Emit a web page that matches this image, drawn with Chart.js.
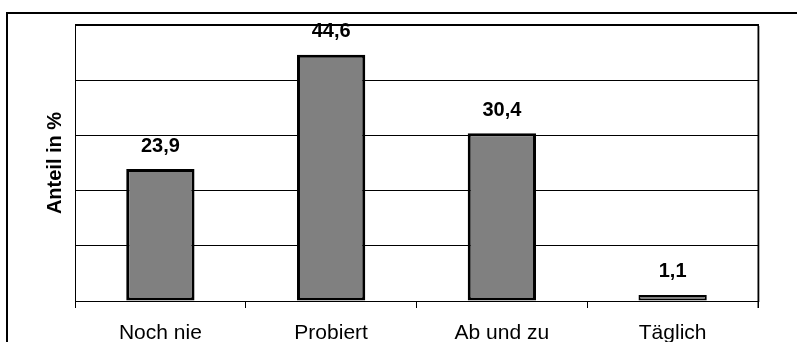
<!DOCTYPE html>
<html>
<head>
<meta charset="utf-8">
<script src="https://cdn.jsdelivr.net/npm/chart.js@4"></script>
<style>
  html, body { margin: 0; padding: 0; background: #fff; }
  #wrap { width: 797px; height: 342px; }
</style>
</head>
<body>
<div id="wrap"><canvas id="chart" width="797" height="342"></canvas></div>
<script>
const categories = ["Noch nie", "Probiert", "Ab und zu", "Täglich"];
const shares = [23.9, 44.6, 30.4, 1.1];
const yMin = 0;
const yMax = 50;
const yStep = 10;

// outer frame + plot border with shadow
const framePlugin = {
  id: "frame",
  beforeDraw(chart) {
    const ctx = chart.ctx;
    ctx.save();
    ctx.fillStyle = "#fff";
    ctx.fillRect(0, 0, chart.width, chart.height);
    ctx.fillStyle = "#000";
    ctx.fillRect(6, 12, 2, chart.height - 12);
    ctx.fillRect(6, 12, chart.width - 6, 2);
    ctx.restore();
  },
  afterDraw(chart) {
    const { ctx, chartArea } = chart;
    ctx.save();
    ctx.fillStyle = "#b0b0b0";
    ctx.fillRect(chartArea.right + 1, chartArea.top + 1, 1, chartArea.bottom - chartArea.top);
    ctx.fillStyle = "#000";
    ctx.fillRect(chartArea.left, chartArea.top - 1, chartArea.right - chartArea.left + 1, 2);
    ctx.fillRect(chartArea.right - 0.5, chartArea.top - 1, 1.5, chartArea.bottom - chartArea.top + 8);
    ctx.restore();
  },
};

// value labels above bars, German decimal comma
const valueLabels = {
  id: "valueLabels",
  afterDatasetsDraw(chart) {
    const ctx = chart.ctx;
    const meta = chart.getDatasetMeta(0);
    ctx.save();
    ctx.font = "bold 20px Arial, 'Liberation Sans', sans-serif";
    ctx.fillStyle = "#000";
    ctx.textAlign = "center";
    ctx.textBaseline = "middle";
    meta.data.forEach((bar, i) => {
      const text = shares[i].toFixed(1).replace(".", ",");
      ctx.fillText(text, bar.x, bar.y - 23);
    });
    ctx.restore();
  },
};

new Chart(document.getElementById("chart"), {
  type: "bar",
  data: {
    labels: categories,
    datasets: [{
      data: shares,
      backgroundColor: "#808080",
      borderColor: "#000",
      // thinner outline on the very short bar so its grey fill stays visible
      borderWidth: [3, 3, 3, 2],
      borderSkipped: false,
      barPercentage: 0.4,
      categoryPercentage: 1,
    }],
  },
  plugins: [framePlugin, valueLabels],
  options: {
    responsive: false,
    animation: false,
    events: [],
    layout: { padding: { left: 42, right: 39, top: 25, bottom: 0 } },
    plugins: {
      legend: { display: false },
      tooltip: { enabled: false },
    },
    scales: {
      x: {
        grid: {
          offset: true,
          drawOnChartArea: false,
          drawTicks: true,
          tickLength: 7,
          color: "#000",
        },
        border: { color: "#000", width: 1 },
        ticks: {
          color: "#000",
          padding: 13,
          font: { family: "Arial, 'Liberation Sans', sans-serif", size: 21 },
        },
        afterFit(scale) { scale.height = 41; },
      },
      y: {
        min: yMin,
        max: yMax,
        ticks: { stepSize: yStep, display: false },
        grid: { color: "#000", drawTicks: false },
        border: { color: "#000", width: 1 },
        title: {
          display: true,
          text: "Anteil in %",
          color: "#000",
          padding: { top: 1, bottom: 0 },
          font: { family: "Arial, 'Liberation Sans', sans-serif", size: 20, weight: "bold" },
        },
        afterFit(scale) { scale.width = 33; },
      },
    },
  },
});
</script>
</body>
</html>
